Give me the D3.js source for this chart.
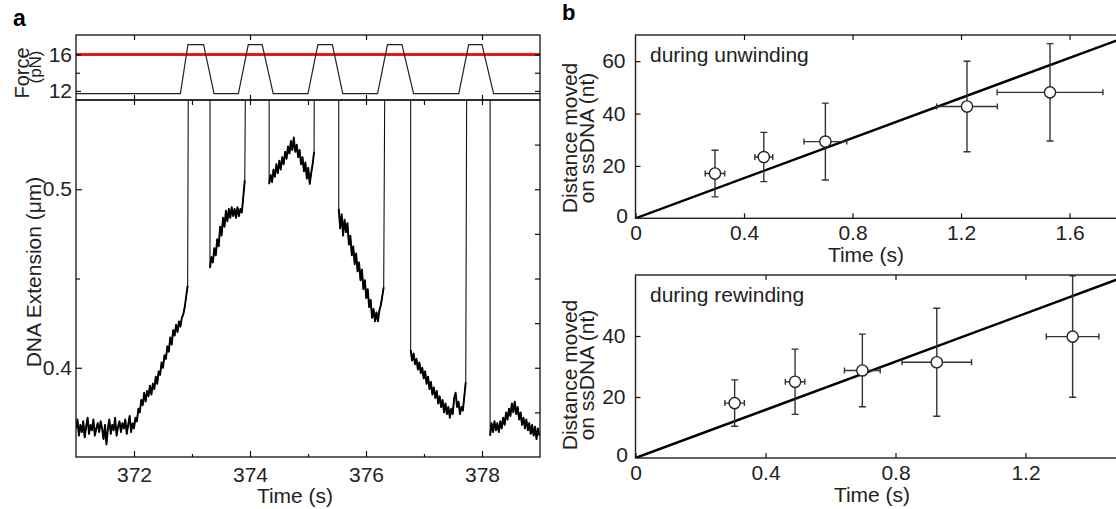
<!DOCTYPE html>
<html>
<head>
<meta charset="utf-8">
<script src="https://cdn.jsdelivr.net/npm/d3@7"></script>
<style>
  body { margin: 0; background: #fff; }
  svg { display: block; font-family: "Liberation Sans", Arial, sans-serif; }
</style>
</head>
<body>
<svg id="fig" width="1116" height="509"></svg>
<script>
// ---------- panel a: force protocol ----------
const forceTimes = [371, 372.80, 372.93, 373.20, 373.38, 373.80, 373.97, 374.21, 374.40,
  375.00, 375.17, 375.42, 375.60, 376.20, 376.37, 376.62, 376.82, 377.60, 377.77, 378.00, 378.20, 379];
const forceValues = [11.7, 11.7, 17.1, 17.1, 11.7, 11.7, 17.1, 17.1, 11.7,
  11.7, 17.1, 17.1, 11.7, 11.7, 17.1, 17.1, 11.7, 11.7, 17.1, 17.1, 11.7, 11.7];
const clampForce = 16;

// ---------- panel a: DNA extension trace (um), sampled every 25 ms ----------
const traceStep = 0.025;
const traceStarts = [371.0, 373.31, 374.33, 375.53, 376.77, 378.14];
const traceA = [0.366, 0.371, 0.362, 0.368, 0.364, 0.370, 0.361, 0.367, 0.372, 0.363,
  0.368, 0.365, 0.371, 0.362, 0.366, 0.369, 0.364, 0.370, 0.366, 0.360,
  0.368, 0.357, 0.366, 0.371, 0.363, 0.368, 0.365, 0.372, 0.362, 0.367,
  0.370, 0.364, 0.369, 0.366, 0.371, 0.363, 0.368, 0.373, 0.364, 0.369,
  0.366, 0.372, 0.370, 0.377, 0.375, 0.382, 0.379, 0.386, 0.381, 0.387,
  0.384, 0.390, 0.385, 0.391, 0.388, 0.395, 0.391, 0.398, 0.396, 0.403,
  0.400, 0.407, 0.405, 0.412, 0.409, 0.417, 0.413, 0.421, 0.418, 0.424,
  0.420, 0.426, 0.423, 0.428, 0.430, 0.434, 0.440, 0.446];
const traceB = [0.456, 0.462, 0.459, 0.467, 0.463, 0.472, 0.468, 0.479, 0.474, 0.484,
  0.479, 0.488, 0.482, 0.489, 0.484, 0.490, 0.485, 0.489, 0.484, 0.490,
  0.485, 0.489, 0.487, 0.496, 0.505];
const traceC = [0.503, 0.508, 0.504, 0.511, 0.507, 0.514, 0.509, 0.516, 0.511, 0.518,
  0.514, 0.521, 0.517, 0.524, 0.520, 0.527, 0.522, 0.529, 0.521, 0.525,
  0.518, 0.522, 0.514, 0.518, 0.510, 0.515, 0.506, 0.512, 0.503, 0.509,
  0.514, 0.521];
const traceD = [0.489, 0.478, 0.486, 0.474, 0.483, 0.476, 0.481, 0.469, 0.474, 0.463,
  0.468, 0.458, 0.464, 0.454, 0.459, 0.449, 0.455, 0.444, 0.449, 0.439,
  0.444, 0.434, 0.438, 0.428, 0.433, 0.426, 0.431, 0.426, 0.432, 0.435,
  0.440, 0.445];
const traceE = [0.410, 0.404, 0.408, 0.402, 0.405, 0.399, 0.403, 0.397, 0.400, 0.394,
  0.398, 0.391, 0.395, 0.388, 0.392, 0.385, 0.389, 0.383, 0.387, 0.380,
  0.384, 0.378, 0.382, 0.375, 0.380, 0.374, 0.378, 0.372, 0.377, 0.374,
  0.383, 0.386, 0.378, 0.381, 0.374, 0.378, 0.376, 0.384, 0.392];
const traceF = [0.362, 0.369, 0.364, 0.370, 0.365, 0.369, 0.364, 0.370, 0.366, 0.372,
  0.368, 0.375, 0.371, 0.377, 0.373, 0.380, 0.375, 0.381, 0.374, 0.378,
  0.371, 0.375, 0.368, 0.372, 0.366, 0.371, 0.365, 0.369, 0.363, 0.368,
  0.362, 0.367, 0.360, 0.366, 0.362];
// times where the bead leaves the plotted range (high force)
const jumpUpTimes = [372.94, 373.93, 375.11, 376.33, 377.74];
const offScaleLevel = 0.6;

// ---------- panel b: unwinding ----------
const unwindTime = [0.293, 0.473, 0.700, 1.222, 1.528];
const unwindTimeErr = [0.036, 0.033, 0.079, 0.112, 0.195];
const unwindDist = [17.1, 23.4, 29.3, 42.7, 48.1];
const unwindDistErr = [8.9, 9.4, 14.7, 17.3, 18.6];
const unwindSlope = 38.3; // nt/s

// ---------- panel b: rewinding ----------
const rewindTime = [0.305, 0.491, 0.698, 0.927, 1.345];
const rewindTimeErr = [0.030, 0.030, 0.055, 0.107, 0.081];
const rewindDist = [18.0, 25.0, 28.7, 31.4, 39.8];
const rewindDistErr = [7.6, 10.7, 11.9, 17.7, 19.9];
const rewindSlope = 39.5;

const svg = d3.select("#fig");
const FS = 21;

function styleAxis(g, size) {
  g.attr("font-size", size).attr("font-family", null);
  g.select(".domain").remove();
  g.selectAll(".tick line").attr("stroke", "#111").attr("stroke-width", 1.2);
  g.selectAll(".tick text").attr("fill", "#222");
}

function addAxis(axis, tx, ty, size) {
  svg.append("g")
    .attr("transform", `translate(${tx},${ty})`)
    .call(axis)
    .call((g) => styleAxis(g, size || FS));
}

// ===================== panel a =====================
const xA = d3.scaleLinear().domain([371, 379]).range([76, 540]);
const yForce = d3.scaleLinear().domain([11, 18.15]).range([100, 35]);
const yExt = d3.scaleLinear().domain([0.35, 0.55]).range([457, 100]);

svg.append("clipPath").attr("id", "clipA")
  .append("rect").attr("x", 76).attr("y", 100).attr("width", 464).attr("height", 357);

// red clamp line, then force trace
svg.append("line")
  .attr("x1", xA(371)).attr("x2", xA(379))
  .attr("y1", yForce(clampForce)).attr("y2", yForce(clampForce))
  .attr("stroke", "#e3191c").attr("stroke-width", 3);

svg.append("path")
  .datum(forceTimes.map((t, i) => [t, forceValues[i]]))
  .attr("d", d3.line().x((d) => xA(d[0])).y((d) => yForce(d[1])))
  .attr("fill", "none").attr("stroke", "#222").attr("stroke-width", 1.2);

// extension trace: thin full path (incl. jumps) + heavier noisy segments
const segs = [traceA, traceB, traceC, traceD, traceE, traceF];
const tracePts = [];
segs.forEach((vals, i) => {
  vals.forEach((v, k) => tracePts.push([traceStarts[i] + k * traceStep, v]));
  if (i < jumpUpTimes.length) {
    tracePts.push([jumpUpTimes[i], offScaleLevel]);
    tracePts.push([traceStarts[i + 1], offScaleLevel]);
  }
});

const traceLine = d3.line().x((d) => xA(d[0])).y((d) => yExt(d[1]));
const traceG = svg.append("g").attr("clip-path", "url(#clipA)");

traceG.append("path")
  .datum(tracePts)
  .attr("d", traceLine)
  .attr("fill", "none").attr("stroke", "#111").attr("stroke-width", 1.1)
  .attr("stroke-linejoin", "round");

traceG.selectAll("path.seg")
  .data(segs)
  .enter()
  .append("path")
  .attr("class", "seg")
  .attr("d", (vals, i) => traceLine(vals.map((v, k) => [traceStarts[i] + k * traceStep, v])))
  .attr("fill", "none").attr("stroke", "#000").attr("stroke-width", 1.9)
  .attr("stroke-linejoin", "round");

// frames
[[35, 100], [100, 457]].forEach(([y0, y1]) => {
  svg.append("rect")
    .attr("x", 76).attr("y", y0).attr("width", 464).attr("height", y1 - y0)
    .attr("fill", "none").attr("stroke", "#111").attr("stroke-width", 1.3);
});

// axes of panel a (ticks point inwards)
addAxis(d3.axisBottom(xA).tickValues([372, 374, 376, 378]).tickSize(-6).tickPadding(10), 0, 457);
addAxis(d3.axisBottom(xA).tickValues([373, 375, 377]).tickSize(-3).tickFormat(""), 0, 457);
addAxis(d3.axisTop(xA).tickValues([372, 373, 374, 375, 376, 377, 378]).tickSize(-5).tickFormat(""), 0, 100);
addAxis(d3.axisBottom(xA).tickValues([372, 374, 376, 378]).tickSize(-5).tickFormat(""), 0, 100);
addAxis(d3.axisTop(xA).tickValues([372, 374, 376, 378]).tickSize(-5).tickFormat(""), 0, 35);

addAxis(d3.axisLeft(yExt).tickValues([0.4, 0.5]).tickSize(-6).tickPadding(4).tickFormat(d3.format(".1f")), 76, 0);
addAxis(d3.axisLeft(yExt).tickValues([0.45]).tickSize(-4).tickFormat(""), 76, 0);
addAxis(d3.axisRight(yExt).tickValues([0.375, 0.4, 0.425, 0.45, 0.475, 0.5, 0.525]).tickSize(-5).tickFormat(""), 540, 0);

addAxis(d3.axisLeft(yForce).tickValues([12, 16]).tickSize(-5).tickPadding(4), 76, 0);
addAxis(d3.axisLeft(yForce).tickValues([14]).tickSize(-4).tickFormat(""), 76, 0);
addAxis(d3.axisRight(yForce).tickValues([12, 14, 16]).tickSize(-5).tickFormat(""), 540, 0);

// labels of panel a
svg.append("text").attr("x", 13).attr("y", 26).attr("font-size", 23)
  .attr("font-weight", "bold").text("a");
svg.append("text").attr("transform", "translate(29,73) rotate(-90)")
  .attr("text-anchor", "middle").attr("font-size", 20).attr("fill", "#222").text("Force");
svg.append("text").attr("transform", "translate(41,67) rotate(-90)")
  .attr("text-anchor", "middle").attr("font-size", 17).attr("fill", "#222").text("(pN)");
svg.append("text").attr("transform", "translate(41,272) rotate(-90)")
  .attr("text-anchor", "middle").attr("font-size", FS).attr("fill", "#222").text("DNA Extension (μm)");
svg.append("text").attr("x", 295).attr("y", 503)
  .attr("text-anchor", "middle").attr("font-size", FS).attr("fill", "#222").text("Time (s)");

// ===================== panel b =====================
function drawFitPanel(cfg) {
  const x = d3.scaleLinear().domain(cfg.xDomain).range([635.5, cfg.xRight]);
  const y = d3.scaleLinear().domain(cfg.yDomain).range([cfg.bottom, cfg.top]);
  const clipId = "clip" + cfg.name;

  svg.append("clipPath").attr("id", clipId)
    .append("rect").attr("x", 635.5).attr("y", cfg.top)
    .attr("width", cfg.xRight - 635.5).attr("height", cfg.bottom - cfg.top);

  const plot = svg.append("g").attr("clip-path", `url(#${clipId})`);

  // linear fit through the origin
  plot.append("line")
    .attr("x1", x(0)).attr("y1", y(0))
    .attr("x2", x(cfg.xDomain[1])).attr("y2", y(cfg.slope * cfg.xDomain[1]))
    .attr("stroke", "#000").attr("stroke-width", 2.4);

  const pts = cfg.t.map((t, i) => ({ t, te: cfg.te[i], d: cfg.d[i], de: cfg.de[i] }));
  const cap = 3.5;
  const bars = plot.append("g").attr("stroke", "#333").attr("stroke-width", 1.4).attr("fill", "none");
  pts.forEach((p) => {
    bars.append("line").attr("x1", x(p.t)).attr("x2", x(p.t)).attr("y1", y(p.d - p.de)).attr("y2", y(p.d + p.de));
    bars.append("line").attr("x1", x(p.t - p.te)).attr("x2", x(p.t + p.te)).attr("y1", y(p.d)).attr("y2", y(p.d));
    [p.d - p.de, p.d + p.de].forEach((v) => {
      bars.append("line").attr("x1", x(p.t) - cap).attr("x2", x(p.t) + cap).attr("y1", y(v)).attr("y2", y(v));
    });
    [p.t - p.te, p.t + p.te].forEach((v) => {
      bars.append("line").attr("x1", x(v)).attr("x2", x(v)).attr("y1", y(p.d) - cap + 0.5).attr("y2", y(p.d) + cap - 0.5);
    });
  });

  plot.selectAll("circle.pt")
    .data(pts)
    .enter()
    .append("circle")
    .attr("class", "pt")
    .attr("cx", (p) => x(p.t))
    .attr("cy", (p) => y(p.d))
    .attr("r", 5.6)
    .attr("fill", "#fff")
    .attr("stroke", "#222")
    .attr("stroke-width", 1.4);

  svg.append("rect")
    .attr("x", 635.5).attr("y", cfg.top).attr("width", cfg.xRight - 635.5).attr("height", cfg.bottom - cfg.top)
    .attr("fill", "none").attr("stroke", "#222").attr("stroke-width", 1.4);

  const fmt = (d) => (d === 0 ? "0" : d3.format(".1f")(d));
  addAxis(d3.axisBottom(x).tickValues(cfg.xTicks).tickSize(-5).tickPadding(7).tickFormat(fmt), 0, cfg.bottom);
  addAxis(d3.axisTop(x).tickValues(cfg.xTicks.slice(1)).tickSize(-5).tickFormat(""), 0, cfg.top);
  addAxis(d3.axisLeft(y).tickValues(cfg.yTicks).tickSize(-5).tickPadding(10), 635.5, 0);

  // y "0" sits just left of the corner, beside the x "0"
  svg.append("text")
    .attr("x", 628).attr("y", y(0)).attr("dy", "0.2em")
    .attr("text-anchor", "end").attr("font-size", FS).attr("fill", "#222").text("0");

  svg.append("text")
    .attr("x", 650).attr("y", cfg.top + 27)
    .attr("font-size", FS).attr("fill", "#222").text(cfg.title);

  const cy = cfg.labelY;
  svg.append("text").attr("transform", `translate(577,${cy}) rotate(-90)`)
    .attr("text-anchor", "middle").attr("font-size", FS).attr("fill", "#222").text("Distance moved");
  svg.append("text").attr("transform", `translate(594,${cy}) rotate(-90)`)
    .attr("text-anchor", "middle").attr("font-size", FS).attr("fill", "#222").text("on ssDNA (nt)");
  svg.append("text").attr("x", cfg.timeX).attr("y", cfg.bottom + 44)
    .attr("text-anchor", "middle").attr("font-size", FS).attr("fill", "#222").text("Time (s)");
}

drawFitPanel({
  name: "Unwind", title: "during unwinding",
  t: unwindTime, te: unwindTimeErr, d: unwindDist, de: unwindDistErr, slope: unwindSlope,
  xDomain: [0, 1.8], xRight: 1123.8, yDomain: [0, 70], top: 35, bottom: 218.3,
  xTicks: [0, 0.4, 0.8, 1.2, 1.6], yTicks: [20, 40, 60], labelY: 138, timeX: 866
});

drawFitPanel({
  name: "Rewind", title: "during rewinding",
  t: rewindTime, te: rewindTimeErr, d: rewindDist, de: rewindDistErr, slope: rewindSlope,
  xDomain: [0, 1.5], xRight: 1123, yDomain: [0, 60], top: 275, bottom: 458,
  xTicks: [0, 0.4, 0.8, 1.2], yTicks: [20, 40], labelY: 375, timeX: 872
});

svg.append("text").attr("x", 562).attr("y", 20).attr("font-size", 22)
  .attr("font-weight", "bold").text("b");
</script>
</body>
</html>
